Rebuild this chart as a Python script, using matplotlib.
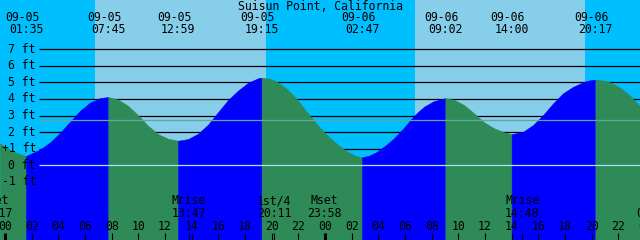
import numpy as np
import matplotlib
matplotlib.use('Agg')
import matplotlib.pyplot as plt

title = "Suisun Point, California"

# hours since 09-05 00:00 and tide height (ft)
tide_hours = [-0.38, 0.60, 1.58, 2.63, 3.38, 4.13, 4.88, 5.63, 6.38, 7.13, 7.75,
              8.50, 9.23, 9.98, 10.73, 11.48, 12.23, 12.98,
              13.73, 14.48, 15.23, 15.98, 16.73, 17.48, 18.23, 18.98, 19.25,
              19.80, 20.33, 21.08, 21.83, 22.58, 23.33, 24.08, 24.83, 25.58, 26.33, 26.78,
              27.30, 27.83, 28.58, 29.18, 29.93, 30.68, 31.43, 32.18, 33.03,
              33.68, 34.43, 35.18, 35.93, 36.68, 37.43, 38.00,
              38.86, 39.61, 40.36, 41.11, 41.86, 42.61, 43.36, 43.80, 44.28,
              44.85, 45.39, 46.14, 46.89, 47.64]
tide_ft = [1.32, 0.82, 0.56, 0.95, 1.38, 1.96, 2.62, 3.28, 3.78, 4.05, 4.11,
           3.95, 3.58, 3.02, 2.38, 1.88, 1.60, 1.48,
           1.58, 1.90, 2.45, 3.20, 3.93, 4.50, 4.97, 5.24, 5.28,
           5.22, 5.08, 4.64, 4.04, 3.27, 2.53, 1.87, 1.33, 0.86, 0.56, 0.48,
           0.58, 0.78, 1.22, 1.63, 2.27, 2.99, 3.53, 3.87, 4.04,
           3.95, 3.63, 3.13, 2.59, 2.23, 1.99, 1.87,
           2.02, 2.43, 3.03, 3.73, 4.34, 4.73, 5.00, 5.11, 5.16,
           5.11, 5.00, 4.67, 4.19, 3.53]

# highs and lows
ext_hours = [1.58, 7.75, 12.98, 19.25, 26.78, 33.03, 38.00, 44.28]
ext_dates = ['09-05', '09-05', '09-05', '09-05', '09-06', '09-06', '09-06', '09-06']
ext_times = ['01:35', '07:45', '12:59', '19:15', '02:47', '09:02', '14:00', '20:17']

# sunrise, sunset, sunrise, sunset
sun_hours = [6.75, 19.58, 30.75, 43.50]

moon_hours = [-0.72, 13.78, 20.18, 23.97, 38.80, 48.65]
moon_names = ['Mset', 'Mrise', '1st/4', 'Mset', 'Mrise', 'Mset']
moon_times = ['23:17', '13:47', '20:11', '23:58', '14:48', '00:39']

level_ft = [-1, 0, 1, 2, 3, 4, 5, 6, 7]
level_labels = ['-1 ft', '0 ft', '+1 ft', '2 ft', '3 ft', '4 ft', '5 ft', '6 ft', '7 ft']
msl_ft = 2.73

NIGHT = '#00bfff'
DAY = '#87ceeb'
RISE = '#0000ff'
FALL = '#2e8b57'

W, H = 640, 240
pph = 13.333          # pixels per hour
ppf = 16.6            # pixels per foot
x_left = -5 / pph
x_right = (W - 5) / pph
y_top = 165.3 / ppf
y_bot = (165.3 - H) / ppf

plt.rcParams['font.family'] = ['DejaVu Sans Mono']
fs = 8.3

fig = plt.figure(figsize=(W / 100, H / 100), dpi=100)
ax = fig.add_axes([0, 0, 1, 1])
ax.set_xlim(x_left, x_right)
ax.set_ylim(y_bot, y_top)
ax.axis('off')

# day / night background
edges = [x_left] + sun_hours + [x_right]
for i in range(len(edges) - 1):
    ax.axvspan(edges[i], edges[i + 1], color=NIGHT if i % 2 == 0 else DAY, lw=0, zorder=0)

line_x0 = (39 - 5) / pph
for lv in level_ft:
    if lv > 0:
        ax.hlines(lv, line_x0, x_right, color='black', lw=0.9, zorder=1)

# tide fill, blue when rising, green when falling
t = np.array(tide_hours)
h = np.array(tide_ft)
bounds = [t[0]] + ext_hours + [t[-1]]
for a, b in zip(bounds[:-1], bounds[1:]):
    m = (t >= a - 1e-6) & (t <= b + 1e-6)
    col = RISE if h[m][-1] > h[m][0] else FALL
    ax.fill_between(t[m], h[m], y_bot, color=col, lw=0.4, ec=col, zorder=2)

ax.hlines(0, line_x0, x_right, color='#b0e0f0', lw=0.9, zorder=3)
ax.hlines(msl_ft, line_x0, x_right, color='#5fa89a', lw=0.9, zorder=3)

xt = ax.get_xaxis_transform()
yt = ax.get_yaxis_transform()

def py(p):
    return 1 - p / H

for lv, lab in zip(level_ft, level_labels):
    ax.text(36 / W, lv, lab, transform=yt, ha='right', va='center', fontsize=fs, zorder=4)

ax.text(0.5, py(6), title, transform=ax.transAxes, ha='center', va='center', fontsize=fs, zorder=4)

for eh, d, tm in zip(ext_hours, ext_dates, ext_times):
    ax.text(eh - 4 / pph, py(17.5), d, transform=xt, ha='center', va='center', fontsize=fs, zorder=4)
    ax.text(eh, py(29.5), tm, transform=xt, ha='center', va='center', fontsize=fs, zorder=4)

for mh, nm, tm in zip(moon_hours, moon_names, moon_times):
    ax.text(mh, py(201), nm, transform=xt, ha='center', va='center', fontsize=fs, zorder=4)
    ax.text(mh, py(213.5), tm, transform=xt, ha='center', va='center', fontsize=fs, zorder=4)
    ax.vlines(mh, 0, 7 / H, transform=xt, color='black', lw=0.8, zorder=4)

for hr in range(0, 49, 2):
    ax.text(hr, py(226), '%02d' % (hr % 24), transform=xt, ha='center', va='center', fontsize=fs, zorder=4)
    ax.vlines(hr, 0, 7 / H, transform=xt, color='black', lw=2.2 if hr % 24 == 0 else 0.8, zorder=4)

fig.savefig('out.png', dpi=100)
